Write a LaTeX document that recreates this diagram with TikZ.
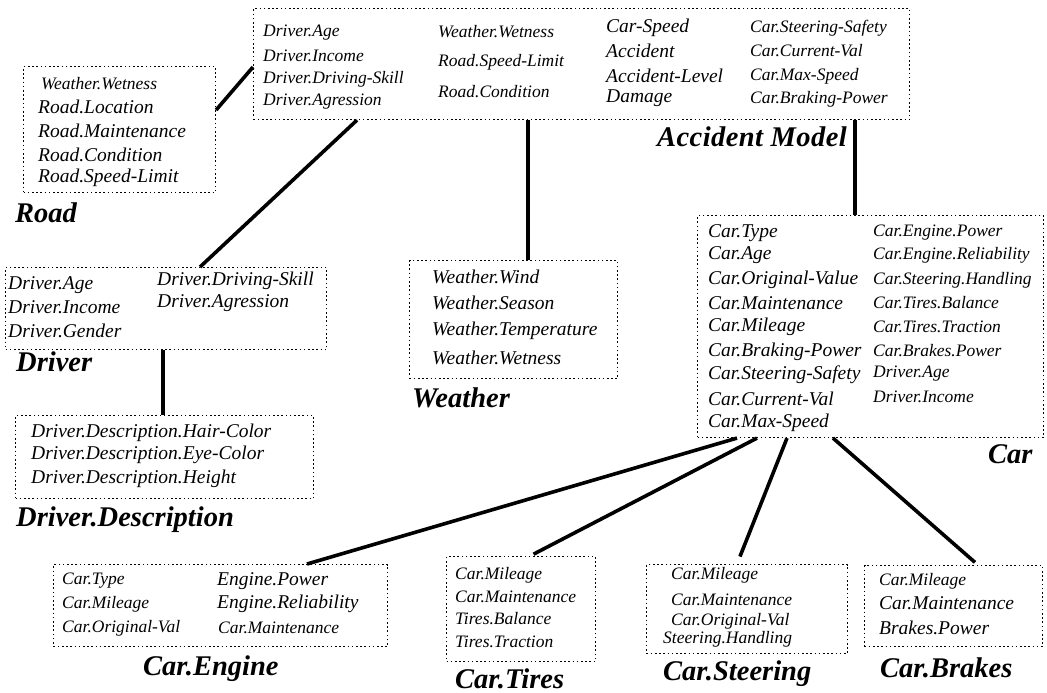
\documentclass[tikz,border=0pt]{standalone}
\usepackage{fontspec}
\newfontfamily\tmfam{Liberation Serif}
\tikzset{
  box/.style={draw, dash pattern=on 1.6pt off 2.6pt, line width=1.1pt, inner sep=0pt, anchor=north west},
  conn/.style={line width=3.6pt},
  tm/.style={anchor=west, inner sep=0pt, font=\fontsize{17.5}{19}\selectfont\tmfam\itshape},
  pl/.style={anchor=west, inner sep=0pt, font=\fontsize{19.5}{21}\selectfont\tmfam\itshape},
  lab/.style={anchor=base west, inner sep=0pt, font=\fontsize{28.5}{30}\selectfont\tmfam\bfseries\itshape}
}
\begin{document}
\begin{tikzpicture}[x=1pt,y=-1pt]
\fill[white] (0,0) rectangle (1047,693);
\useasboundingbox (0,0) rectangle (1047,693);

% boxes
\node[box, minimum width=656pt, minimum height=111pt] (acc) at (253,8) {};
\node[box, minimum width=192pt, minimum height=126pt] (road) at (23,66) {};
\node[box, minimum width=321pt, minimum height=82pt] (drv) at (5,267) {};
\node[box, minimum width=298pt, minimum height=83pt] (dd) at (15,415) {};
\node[box, minimum width=208pt, minimum height=118pt] (wea) at (409,260) {};
\node[box, minimum width=346pt, minimum height=222pt] (car) at (697,215) {};
\node[box, minimum width=334pt, minimum height=82pt] (eng) at (53,564) {};
\node[box, minimum width=149pt, minimum height=105pt] (tir) at (446,556) {};
\node[box, minimum width=201pt, minimum height=89pt] (ste) at (646,564) {};
\node[box, minimum width=178pt, minimum height=81pt] (brk) at (864,565) {};

% connectors
\draw[conn] ([yshift=-44pt]road.north east) -- ([yshift=-59pt]acc.north west);
\draw[conn] ([xshift=104pt]acc.south west) -- ([xshift=195pt]drv.north west);
\draw[conn] ([xshift=275pt]acc.south west) -- ([xshift=119pt]wea.north west);
\draw[conn] ([xshift=602pt]acc.south west) -- ([xshift=158pt]car.north west);
\draw[conn] ([xshift=158pt]drv.south west) -- ([xshift=148pt]dd.north west);
\draw[conn] ([xshift=40pt]car.south west) -- ([xshift=254pt]eng.north west);
\draw[conn, shorten >=4pt] ([xshift=60pt]car.south west) -- ([xshift=84pt]tir.north west);
\draw[conn, shorten >=8pt] ([xshift=90pt]car.south west) -- ([xshift=91pt]ste.north west);
\draw[conn, shorten >=4pt] ([xshift=136pt]car.south west) -- ([xshift=114pt]brk.north west);

% Accident Model
\foreach \yy/\t [count=\i] in {33/Driver.Age,56/Driver.Income,79/Driver.Driving-Skill,102/Driver.Agression}
  \node[tm] (a1-\i) at (263,\yy) {\t};
\foreach \yy/\t [count=\i] in {32/Weather.Wetness,62/Road.Speed-Limit,92/Road.Condition}
  \node[tm] (a2-\i) at (438,\yy) {\t};
\foreach \yy/\t [count=\i] in {28/Car-Speed,51/Accident,76/Accident-Level,98/Damage}
  \node[pl] (a3-\i) at (606,\yy) {\t};
\foreach \yy/\t [count=\i] in {28/Car.Steering-Safety,51/Car.Current-Val,76/Car.Max-Speed,99/Car.Braking-Power}
  \node[tm] (a4-\i) at (750,\yy) {\t};
\node[lab, font=\fontsize{28.5}{30}\selectfont\tmfam\bfseries\itshape\addfontfeature{LetterSpace=1.5}] (accl) at (657,146) {Accident Model};

% Road
\node[tm] (r0) at (41,84) {Weather.Wetness};
\foreach \yy/\t [count=\i] in {107/Road.Location,131/Road.Maintenance,155/Road.Condition,178/Road.Speed-Limit}
  \node[pl] (r-\i) at (38,\yy) {\t};
\node[lab] (roadl) at (15,222) {Road};

% Driver
\foreach \yy/\t [count=\i] in {285/Driver.Age,307/Driver.Income,331/Driver.Gender}
  \node[pl] (d1-\i) at (8,\yy) {\t};
\foreach \yy/\t [count=\i] in {281/Driver.Driving-Skill,303/Driver.Agression}
  \node[pl] (d2-\i) at (157,\yy) {\t};
\node[lab] (drvl) at (16,371) {Driver};

% Driver.Description
\foreach \yy/\t [count=\i] in {433/Driver.Description.Hair-Color,455/Driver.Description.Eye-Color,479/Driver.Description.Height}
  \node[pl] (dd-\i) at (31,\yy) {\t};
\node[lab] (ddl) at (16,526) {Driver.Description};

% Weather
\foreach \yy/\t [count=\i] in {277/Weather.Wind,303/Weather.Season,331/Weather.Temperature,358/Weather.Wetness}
  \node[pl] (w-\i) at (432,\yy) {\t};
\node[lab] (weal) at (412,407) {Weather};

% Car
\foreach \yy/\t [count=\i] in {233/Car.Type,255/Car.Age,280/Car.Original-Value,303/Car.Maintenance,327/Car.Mileage,352/Car.Braking-Power,375/Car.Steering-Safety,399/Car.Current-Val,423/Car.Max-Speed}
  \node[pl] (c1-\i) at (708,\yy) {\t};
\foreach \yy/\t [count=\i] in {233/Car.Engine.Power,255/Car.Engine.Reliability,280/Car.Steering.Handling,303/Car.Tires.Balance,327/Car.Tires.Traction,351/Car.Brakes.Power,374/Driver.Age,397/Driver.Income}
  \node[tm] (c2-\i) at (873,\yy) {\t};
\node[lab] (carl) at (988,463) {Car};

% Car.Engine
\foreach \yy/\t [count=\i] in {581/Car.Type,604/Car.Mileage,628/Car.Original-Val}
  \node[tm] (e1-\i) at (62,\yy) {\t};
\node[pl] (e2-1) at (217,581) {Engine.Power};
\node[pl] (e2-2) at (217,604) {Engine.Reliability};
\node[tm] (e2-3) at (218,628) {Car.Maintenance};
\node[lab] (engl) at (143,675) {Car.Engine};

% Car.Tires
\foreach \yy/\t [count=\i] in {575/Car.Mileage,597/Car.Maintenance,619/Tires.Balance,642/Tires.Traction}
  \node[tm] (t-\i) at (455,\yy) {\t};
\node[lab] (tirl) at (455,688) {Car.Tires};

% Car.Steering
\foreach \yy/\t [count=\i] in {575/Car.Mileage,600/Car.Maintenance,621/Car.Original-Val}
  \node[tm] (s-\i) at (671,\yy) {\t};
\node[tm] (s-4) at (663,639) {Steering.Handling};
\node[lab] (stel) at (663,680) {Car.Steering};

% Car.Brakes
\node[tm] (b-1) at (879,581) {Car.Mileage};
\node[pl] (b-2) at (879,603) {Car.Maintenance};
\node[pl] (b-3) at (879,628) {Brakes.Power};
\node[lab] (brkl) at (880,677) {Car.Brakes};
\end{tikzpicture}
\end{document}
